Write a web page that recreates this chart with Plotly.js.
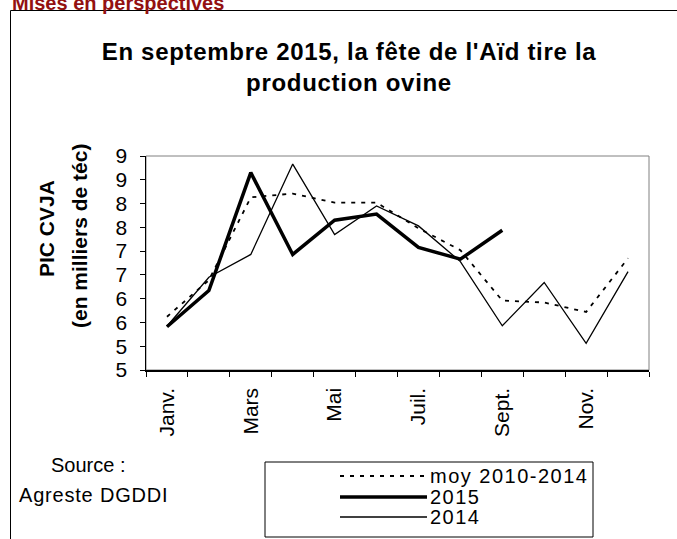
<!DOCTYPE html>
<html>
<head>
<meta charset="utf-8">
<script src="https://cdn.plot.ly/plotly-3.0.1.min.js"></script>
<style>html,body{margin:0;padding:0;background:#fff;}#chart{width:677px;height:539px;}</style>
</head>
<body>
<div id="chart"></div>
<script>
// ---- data ----
var months = ["Janv.", "Févr.", "Mars", "Avr.", "Mai", "Juin", "Juil.", "Août", "Sept.", "Oct.", "Nov.", "Déc."];
var monthLabels = ["Janv.", "", "Mars", "", "Mai", "", "Juil.", "", "Sept.", "", "Nov.", ""];
var moy20102014 = [5.62, 6.39, 8.13, 8.21, 8.02, 8.02, 7.48, 7.02, 5.96, 5.92, 5.72, 6.85];
var y2015 = [5.41, 6.17, 8.65, 6.93, 7.65, 7.78, 7.08, 6.83, 7.44];
var y2014 = [5.42, 6.45, 6.93, 8.83, 7.35, 7.95, 7.53, 6.78, 5.43, 6.34, 5.06, 6.57];
var yTickVals = [4.5, 5, 5.5, 6, 6.5, 7, 7.5, 8, 8.5, 9];
var yTickText = ["5", "5", "6", "6", "7", "7", "8", "8", "9", "9"];
var seriesNames = ["moy 2010-2014", "2015", "2014"];

// ---- geometry helpers (plot area in px) ----
var W = 677, H = 539, L = 146, R = 649, T = 156, B = 370;
function px2x(p) { return (p - L) / (R - L); }
function px2y(p) { return (B - p) / (B - T); }

var FONT = "Liberation Sans, Arial, sans-serif";
var styles = [
  { color: "#000", width: 1.8, dash: "4px,6px" },
  { color: "#000", width: 3.5 },
  { color: "#000", width: 1.3 }
];

var traces = [
  { x: months, y: moy20102014, name: seriesNames[0], type: "scatter", mode: "lines", line: styles[0], showlegend: false },
  { x: months.slice(0, y2015.length), y: y2015, name: seriesNames[1], type: "scatter", mode: "lines", line: styles[1], showlegend: false },
  { x: months, y: y2014, name: seriesNames[2], type: "scatter", mode: "lines", line: styles[2], showlegend: false }
];

// legend (drawn as a boxed key below the chart)
var legRows = [476, 497, 517];
var legShapes = [
  { type: "rect", xref: "paper", yref: "paper", x0: px2x(265), y0: px2y(537), x1: px2x(593), y1: px2y(462),
    line: { color: "#000", width: 1 }, fillcolor: "#fff" }
];
var legAnn = [];
seriesNames.forEach(function (n, i) {
  legShapes.push({ type: "line", xref: "paper", yref: "paper", x0: px2x(340), x1: px2x(427),
    y0: px2y(legRows[i]), y1: px2y(legRows[i]), line: styles[i] });
  legAnn.push({ text: '<span style="letter-spacing:1.5px">' + n + '</span>', xref: "paper", yref: "paper",
    x: px2x(428), y: px2y(legRows[i]), xanchor: "left", yanchor: "middle", showarrow: false,
    font: { family: FONT, size: 20, color: "#000" } });
});

var layout = {
  width: W, height: H,
  margin: { l: L, r: W - R, t: T, b: H - B, pad: 0, autoexpand: false },
  paper_bgcolor: "#fff", plot_bgcolor: "#fff",
  font: { family: FONT, size: 20, color: "#000" },
  title: {
    text: '<b><span style="letter-spacing:0.7px">En septembre 2015, la fête de l\'Aïd tire la<br>production ovine</span></b>',
    font: { family: FONT, size: 24, color: "#000" },
    xref: "container", x: 349 / W, xanchor: "center",
    yref: "container", y: 1 - 60 / H, yanchor: "top"
  },
  xaxis: {
    type: "category", categoryorder: "array", categoryarray: months,
    range: [-0.5, 11.5],
    tickmode: "array", tickvals: months, ticktext: monthLabels,
    tickson: "boundaries", ticks: "outside", ticklen: 5, tickcolor: "#000", tickwidth: 1,
    tickangle: -90, ticklabelstandoff: 8, tickfont: { family: FONT, size: 21, color: "#000" },
    showline: true, linecolor: "#000", linewidth: 1.5,
    showgrid: false, zeroline: false, fixedrange: true
  },
  yaxis: {
    range: [4.5, 9.0],
    tickmode: "array", tickvals: yTickVals, ticktext: yTickText,
    ticks: "outside", ticklen: 5, tickcolor: "#000", tickwidth: 1,
    ticklabelstandoff: 8, tickfont: { family: FONT, size: 21, color: "#000" },
    showline: true, linecolor: "#000", linewidth: 1.5,
    showgrid: false, zeroline: false, fixedrange: true
  },
  showlegend: false,
  shapes: [
    { type: "rect", xref: "paper", yref: "paper", x0: 0, y0: 0, x1: 1, y1: 1,
      line: { color: "#808080", width: 1 }, layer: "below" },
    { type: "line", xref: "paper", yref: "paper", x0: px2x(10.5), y0: px2y(H + 2), x1: px2x(10.5), y1: px2y(10.5),
      line: { color: "#000", width: 1 } },
    { type: "line", xref: "paper", yref: "paper", x0: px2x(10.5), y0: px2y(10.5), x1: px2x(W + 2), y1: px2y(10.5),
      line: { color: "#000", width: 1 } }
  ].concat(legShapes),
  annotations: [
    { text: "<b>Mises en perspectives</b>", xref: "paper", yref: "paper",
      x: px2x(10), y: px2y(16.5), xanchor: "left", yanchor: "bottom", showarrow: false,
      font: { family: FONT, size: 20, color: "#931111" } },
    { text: "<b>PIC CVJA</b>", xref: "paper", yref: "paper", textangle: -90,
      x: px2x(46), y: px2y(229), xanchor: "center", yanchor: "middle", showarrow: false,
      font: { family: FONT, size: 21, color: "#000" } },
    { text: "<b>(en milliers de téc)</b>", xref: "paper", yref: "paper", textangle: -90,
      x: px2x(79), y: px2y(236), xanchor: "center", yanchor: "middle", showarrow: false,
      font: { family: FONT, size: 21, color: "#000" } },
    { text: "Source :", xref: "paper", yref: "paper",
      x: px2x(88), y: px2y(465), xanchor: "center", yanchor: "middle", showarrow: false,
      font: { family: FONT, size: 20, color: "#000" } },
    { text: '<span style="letter-spacing:0.8px">Agreste DGDDI</span>', xref: "paper", yref: "paper",
      x: px2x(93), y: px2y(495), xanchor: "center", yanchor: "middle", showarrow: false,
      font: { family: FONT, size: 20, color: "#000" } }
  ].concat(legAnn)
};

Plotly.newPlot("chart", traces, layout, { displayModeBar: false, staticPlot: true });
</script>
</body>
</html>
